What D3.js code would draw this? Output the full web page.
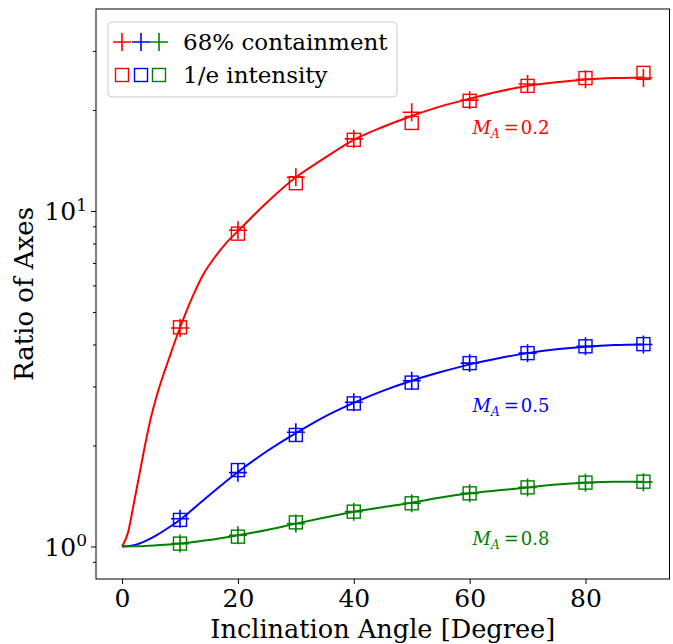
<!DOCTYPE html>
<html>
<head>
<meta charset="utf-8">
<script src="https://cdn.jsdelivr.net/npm/d3@7"></script>
<style>
  body { margin: 0; background: #fff; }
  svg { display: block; }
  text { font-family: "DejaVu Serif", serif; }
</style>
</head>
<body>
<div id="chart"></div>
<script>
// marker positions (degrees)
var markerAngles = [10, 20, 30, 40, 50, 60, 70, 80, 90];

// 68% containment (plus markers)
var plusRed   = [4.48, 8.76, 12.6, 16.4, 19.7, 21.4, 23.9, 24.7, 24.9];
var plusBlue  = [1.21, 1.66, 2.19, 2.69, 3.12, 3.52, 3.77, 3.95, 4.00];
var plusGreen = [1.02, 1.08, 1.17, 1.27, 1.345, 1.44, 1.50, 1.55, 1.555];

// 1/e intensity (square markers)
var sqRed   = [4.50, 8.56, 12.1, 16.3, 18.3, 21.3, 23.6, 24.9, 25.8];
var sqBlue  = [1.20, 1.69, 2.15, 2.67, 3.08, 3.52, 3.77, 3.95, 4.01];
var sqGreen = [1.02, 1.07, 1.18, 1.27, 1.345, 1.44, 1.50, 1.55, 1.56];

// model curves
var curveRedX = [0, 1, 2, 3, 4, 5, 6, 7, 8, 9, 10, 12, 14, 16, 18, 20, 25, 30, 35, 40, 45, 50, 55, 60, 65, 70, 75, 80, 85, 90];
var curveRedY = [1.0, 1.096, 1.334, 1.641, 2.018, 2.427, 2.818, 3.199, 3.589, 4.027, 4.487, 5.47, 6.457, 7.278, 8.035, 8.71, 10.6, 12.6, 14.4, 16.3, 17.8, 19.2, 20.5, 21.6, 22.7, 23.6, 24.2, 24.65, 24.9, 25.0];
var curveX = [0, 2, 4, 6, 8, 10, 12, 15, 20, 25, 30, 35, 40, 45, 50, 55, 60, 65, 70, 75, 80, 85, 90];
var curveBlue  = [1.0, 1.009, 1.038, 1.081, 1.137, 1.202, 1.282, 1.419, 1.667, 1.923, 2.178, 2.44, 2.68, 2.91, 3.12, 3.31, 3.49, 3.64, 3.77, 3.87, 3.94, 3.985, 4.0];
var curveGreen = [1.0, 1.001, 1.004, 1.008, 1.014, 1.02, 1.03, 1.045, 1.08, 1.12, 1.17, 1.22, 1.27, 1.31, 1.35, 1.40, 1.44, 1.47, 1.50, 1.53, 1.55, 1.56, 1.56];

var xTicks = [0, 20, 40, 60, 80];
var yMajor = [1, 10];
var yMinor = [0.9, 2, 3, 4, 5, 6, 7, 8, 9, 20, 30];

var series = [
  {color: "#ff0000", cx: curveRedX, cy: curveRedY, plus: plusRed, sq: sqRed, label: "0.2", labelY: 17.6},
  {color: "#0000ff", cx: curveX, cy: curveBlue, plus: plusBlue, sq: sqBlue, label: "0.5", labelY: 2.61},
  {color: "#008000", cx: curveX, cy: curveGreen, plus: plusGreen, sq: sqGreen, label: "0.8", labelY: 1.045}
];

var W = 673, H = 644;
var margin = {top: 9, left: 96, right: 3.5, bottom: 65};

var svg = d3.select("#chart").append("svg")
    .attr("width", W)
    .attr("height", H);

var x = d3.scaleLinear().domain([-4.5, 94.5]).range([margin.left, W - margin.right]);
var y = d3.scaleLog().domain([0.8, 40]).range([H - margin.bottom, margin.top]);

var line = d3.line().curve(d3.curveMonotoneX);

// curves
series.forEach(function(s) {
    var pts = s.cx.map(function(d, i) { return [x(d), y(s.cy[i])]; });
    svg.append("path")
        .attr("d", line(pts))
        .attr("fill", "none")
        .attr("stroke", s.color)
        .attr("stroke-width", 2);
});

// markers
var plusHalf = 9, sqHalf = 6.5;
series.forEach(function(s) {
    var g = svg.append("g");
    markerAngles.forEach(function(a, i) {
        var px = x(a), py = y(s.plus[i]);
        g.append("path")
            .attr("d", "M" + (px - plusHalf) + "," + py + "H" + (px + plusHalf) +
                       "M" + px + "," + (py - plusHalf) + "V" + (py + plusHalf))
            .attr("stroke", s.color).attr("stroke-width", 1.6).attr("fill", "none");
        var qx = x(a), qy = y(s.sq[i]);
        g.append("rect")
            .attr("x", qx - sqHalf).attr("y", qy - sqHalf)
            .attr("width", sqHalf * 2).attr("height", sqHalf * 2)
            .attr("fill", "none").attr("stroke", s.color).attr("stroke-width", 1.4);
    });
});

// annotations
series.forEach(function(s) {
    var t = svg.append("text")
        .attr("x", x(60.5))
        .attr("y", y(s.labelY))
        .attr("dy", "0.3em")
        .attr("fill", s.color)
        .style("font-size", "18px");
    t.append("tspan").style("font-style", "italic").text("M");
    t.append("tspan").attr("dy", 4).style("font-size", "12px").style("font-style", "italic").text("A");
    t.append("tspan").attr("dy", -4).attr("dx", 4).text("=");
    t.append("tspan").attr("dx", 2).text(s.label);
});

// frame
svg.append("rect")
    .attr("x", margin.left).attr("y", margin.top)
    .attr("width", W - margin.right - margin.left)
    .attr("height", H - margin.bottom - margin.top)
    .attr("fill", "none").attr("stroke", "#000").attr("stroke-width", 1);

// x axis
var xAxis = svg.append("g")
    .attr("transform", "translate(0," + (H - margin.bottom) + ")")
    .call(d3.axisBottom(x).tickValues(xTicks).tickSize(5).tickPadding(5).tickFormat(d3.format("d")));
xAxis.select(".domain").remove();
xAxis.selectAll("text").style("font-size", "25px").style("font-family", "DejaVu Serif").attr("fill", "#000");

// y axis major
var yAxis = svg.append("g")
    .attr("transform", "translate(" + margin.left + ",0)")
    .call(d3.axisLeft(y).tickValues(yMajor).tickSize(5).tickPadding(8).tickFormat(""));
yAxis.select(".domain").remove();
yAxis.selectAll(".tick").each(function(d) {
    var t = d3.select(this).append("text")
        .attr("x", -9).attr("dy", "0.35em")
        .attr("text-anchor", "end")
        .attr("fill", "#000")
        .style("font-size", "25px");
    t.append("tspan").text("10");
    t.append("tspan").attr("dy", "-0.55em").style("font-size", "17px").text(Math.round(Math.log10(d)));
});

// y axis minor
var yMin = svg.append("g")
    .attr("transform", "translate(" + margin.left + ",0)")
    .call(d3.axisLeft(y).tickValues(yMinor).tickSize(3).tickFormat(""));
yMin.select(".domain").remove();

// axis labels
svg.append("text")
    .attr("x", (x.range()[0] + x.range()[1]) / 2)
    .attr("y", 638)
    .attr("text-anchor", "middle")
    .style("font-size", "25.6px")
    .text("Inclination Angle [Degree]");

svg.append("text")
    .attr("transform", "translate(33," + ((margin.top + H - margin.bottom) / 2) + ") rotate(-90)")
    .attr("text-anchor", "middle")
    .style("font-size", "26px")
    .text("Ratio of Axes");

// legend
var leg = svg.append("g").attr("transform", "translate(108,22)");
leg.append("rect")
    .attr("width", 289).attr("height", 75)
    .attr("rx", 4).attr("ry", 4)
    .attr("fill", "#fff").attr("fill-opacity", 0.8)
    .attr("stroke", "#cccccc").attr("stroke-width", 1);
var handleX = [14, 33, 51];
series.forEach(function(s, i) {
    var hx = handleX[i];
    leg.append("path")
        .attr("d", "M" + (hx - plusHalf) + ",20H" + (hx + plusHalf) + "M" + hx + "," + (20 - plusHalf) + "V" + (20 + plusHalf))
        .attr("stroke", s.color).attr("stroke-width", 1.6);
    leg.append("rect")
        .attr("x", hx - sqHalf).attr("y", 53 - sqHalf)
        .attr("width", sqHalf * 2).attr("height", sqHalf * 2)
        .attr("fill", "none").attr("stroke", s.color).attr("stroke-width", 1.4);
});
leg.append("text").attr("x", 75).attr("y", 28).style("font-size", "23px").text("68% containment");
leg.append("text").attr("x", 75).attr("y", 61).style("font-size", "23px").text("1/e intensity");
</script>
</body>
</html>
